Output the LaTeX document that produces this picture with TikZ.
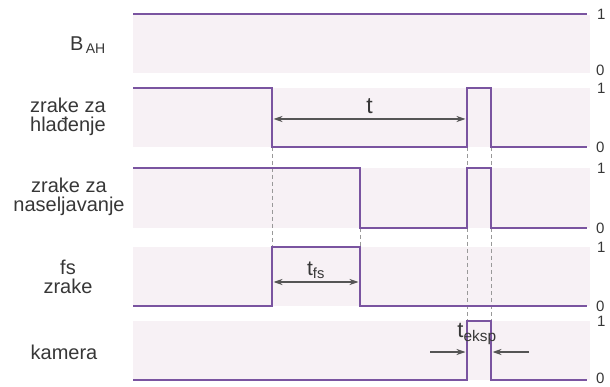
\documentclass[tikz,border=0pt]{standalone}
\usepackage{fontspec}
\setmainfont{Liberation Sans}
\usetikzlibrary{arrows.meta}
\definecolor{sigcol}{RGB}{122,84,160}
\definecolor{bandcol}{RGB}{247,241,245}
\definecolor{txtcol}{RGB}{55,55,55}
\begin{document}
\begin{tikzpicture}[x=1pt,y=-1pt,
    band/.style={fill=bandcol},
    sig/.style={draw=sigcol,line width=2.4pt,line join=miter},
    cut/.style={draw=gray!80,dash pattern=on 4pt off 3pt,line width=0.9pt},
    dim/.style={draw=txtcol!85,line width=1.2pt,>={Stealth[length=9pt,width=6pt]}},
    rowlabel/.style={text=txtcol,align=center,font=\fontsize{20}{19}\selectfont},
    lvl/.style={text=txtcol,anchor=west,inner sep=0pt,font=\fontsize{15}{15}\selectfont}]
    \useasboundingbox (0,0) rectangle (610,387);

    % bands
    \fill[band] (133,15) rectangle (590,73);
    \fill[band] (133,88) rectangle (590,147);
    \fill[band] (133,168) rectangle (590,228);
    \fill[band] (133,247) rectangle (590,306);
    \fill[band] (133,321) rectangle (590,380);

    % row labels
    \node[rowlabel] (lBAH) at (88,45) {B\textsubscript{\,AH}};
    \node[rowlabel] (lHl) at (68,117) {zrake za\\hlađenje};
    \node[rowlabel] (lNas) at (69,197) {zrake za\\naseljavanje};
    \node[rowlabel] (lFs) at (68,277) {fs\\zrake};
    \node[rowlabel] (lKam) at (64,352) {kamera};

    % levels
    \foreach \hi/\lo [count=\i] in {14/70,88/147,168/228,247/306,321/378}{
        \node[lvl] (one\i) at (597,\hi) {1};
        \node[lvl] (zero\i) at (596,\lo) {0};
    }

    % edge coordinates
    \coordinate (A1) at (272,147);
    \coordinate (A2) at (272,247);
    \coordinate (B1) at (360,228);
    \coordinate (B2) at (360,247);
    \coordinate (C1) at (467,147);
    \coordinate (C2) at (467,168);
    \coordinate (C3) at (467,228);
    \coordinate (C4) at (467,321);
    \coordinate (D1) at (491,147);
    \coordinate (D2) at (491,168);
    \coordinate (D3) at (491,228);
    \coordinate (D4) at (491,321);

    \draw[cut] (A1) -- (A2);
    \draw[cut] (B1) -- (B2);
    \draw[cut] (C1) -- (C2);
    \draw[cut] (C3) -- (C4);
    \draw[cut] (D1) -- (D2);
    \draw[cut] (D3) -- (D4);

    % signals
    \draw[sig] (133,14) -- (587,14);
    \draw[sig] (133,88) -| (272,147) -| (467,88) -| (491,147) -- (587,147);
    \draw[sig] (133,168) -| (360,228) -| (467,168) -| (491,228) -- (587,228);
    \draw[sig] (133,306) -| (272,247) -| (360,306) -- (587,306);
    \draw[sig] (133,380) -| (467,321) -| (491,380) -- (587,380);

    % times
    \coordinate (tL) at (273.5,119);
    \coordinate (tR) at (465.5,119);
    \coordinate (fsL) at (273.5,282);
    \coordinate (fsR) at (358.5,282);
    \coordinate (eL) at (430,352);
    \coordinate (eLe) at (465.5,352);
    \coordinate (eR) at (529,352);
    \coordinate (eRe) at (492.5,352);

    \draw[dim,<->] (tL) -- (tR) node[midway,above=1pt,text=txtcol,font=\fontsize{23}{23}\selectfont] (tlab) {t};
    \draw[dim,<->] (fsL) -- (fsR) node[midway,above=-1pt,text=txtcol,font=\fontsize{21}{21}\selectfont] (tfslab) {t\textsubscript{fs}};
    \draw[dim,->] (eL) -- (eLe);
    \draw[dim,->] (eR) -- (eRe);
    \node[text=txtcol,font=\fontsize{22}{22}\selectfont] (teklab) at (477,334) {t\textsubscript{eksp}};
\end{tikzpicture}
\end{document}
